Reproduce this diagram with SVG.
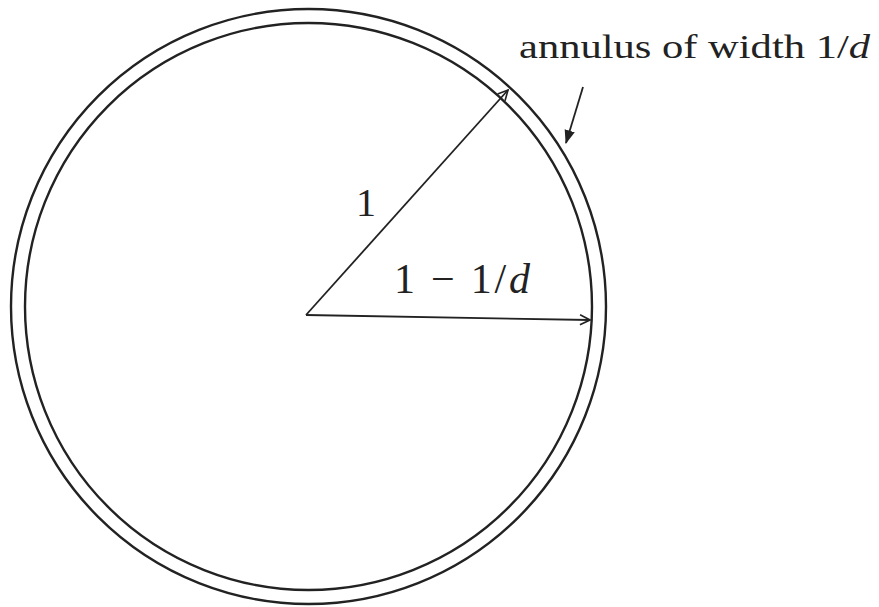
<svg xmlns="http://www.w3.org/2000/svg" width="879" height="607" viewBox="0 0 879 607">
<defs>
<style>
.c{fill:none;stroke:#222;stroke-width:2.4}
.l{fill:none;stroke:#222;stroke-width:1.8}
.t{font-family:"Liberation Serif","DejaVu Serif",serif;fill:#222}
</style>
<marker id="open" viewBox="0 0 12 12" refX="11" refY="6" markerWidth="12" markerHeight="12" markerUnits="userSpaceOnUse" orient="auto">
<path d="M1,1 L11,6 L1,11" fill="none" stroke="#222" stroke-width="1.6"/>
</marker>
<marker id="fill" viewBox="0 0 12 12" refX="11" refY="6" markerWidth="14" markerHeight="14" markerUnits="userSpaceOnUse" orient="auto">
<path d="M0,1.5 L12,6 L0,10.5 Z" fill="#222"/>
</marker>
</defs>
<g id="annulus">
<circle class="c" cx="308.5" cy="306.5" r="297.5"/>
<circle class="c" cx="308.5" cy="306.5" r="283.5"/>
</g>
<g id="connectors">
<line class="l" x1="306" y1="315" x2="508" y2="90" marker-end="url(#open)"/>
<line class="l" x1="306" y1="315" x2="590" y2="320" marker-end="url(#open)"/>
<line class="l" x1="583" y1="87" x2="566" y2="143" marker-end="url(#fill)"/>
</g>
<g id="labels">
<text class="t" x="356" y="216" font-size="40">1</text>
<text class="t" x="394" y="293" font-size="42" textLength="136" lengthAdjust="spacing">1 − 1/<tspan font-style="italic">d</tspan></text>
<text class="t" x="519" y="58" font-size="33" textLength="351" lengthAdjust="spacingAndGlyphs">annulus of width 1/<tspan font-style="italic">d</tspan></text>
</g>
</svg>
